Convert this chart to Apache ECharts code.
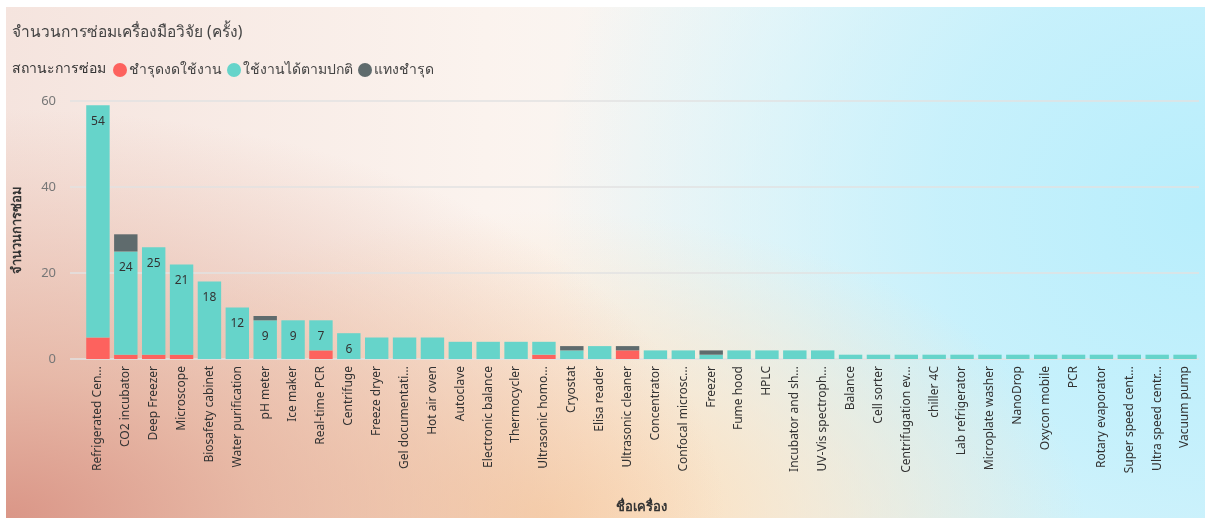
<!DOCTYPE html>
<html>
<head>
<meta charset="utf-8">
<script src="https://cdn.jsdelivr.net/npm/echarts@6/dist/echarts.min.js"></script>
<style>
html,body{margin:0;padding:0;background:#fff;}
#bg{position:absolute;left:6px;top:7px;width:1199px;height:511px;
background:
 radial-gradient(ellipse 60% 80% at 0% 100%, rgba(218,150,135,1) 0%, rgba(226,170,150,0.75) 35%, rgba(240,205,190,0) 100%),
 radial-gradient(ellipse 45% 60% at 45% 100%, rgba(252,218,178,1) 0%, rgba(252,226,195,0.6) 50%, rgba(252,235,215,0) 100%),
 radial-gradient(ellipse 55% 120% at 100% 40%, rgba(184,238,252,1) 0%, rgba(195,240,252,0.9) 40%, rgba(225,245,250,0) 100%),
 linear-gradient(90deg, #f5e4de 0%, #fbf3ee 40%, #f7f8f6 65%, #e2f5fa 100%);}
#chart{position:absolute;left:0;top:0;width:1205px;height:518px;}
</style>
</head>
<body>
<div id="bg"></div>
<div id="chart"></div>
<script>
const categories = ["Refrigerated Cen...","CO2 incubator","Deep Freezer","Microscope","Biosafety cabinet","Water purification","pH meter","Ice maker","Real-time PCR","Centrifuge",
"Freeze dryer","Gel documentati...","Hot air oven","Autoclave","Electronic balance","Thermocycler","Ultrasonic homo...","Cryostat","Elisa reader","Ultrasonic cleaner",
"Concentrator","Confocal microsc...","Freezer","Fume hood","HPLC","Incubator and sh...","UV-Vis spectroph...","Balance","Cell sorter","Centrifugation ev...",
"chiller 4C","Lab refrigerator","Microplate washer","NanoDrop","Oxycon mobile","PCR","Rotary evaporator","Super speed cent...","Ultra speed centr...","Vacuum pump"];
const brokenValues = [5,1,1,1,0,0,0,0,2,0, 0,0,0,0,0,0,1,0,0,2, 0,0,0,0,0,0,0,0,0,0, 0,0,0,0,0,0,0,0,0,0];
const normalValues = [54,24,25,21,18,12,9,9,7,6, 5,5,5,4,4,4,3,2,3,0, 2,2,1,2,2,2,2,1,1,1, 1,1,1,1,1,1,1,1,1,1];
const stabbedValues = [0,4,0,0,0,0,1,0,0,0, 0,0,0,0,0,0,0,1,0,1, 0,0,1,0,0,0,0,0,0,0, 0,0,0,0,0,0,0,0,0,0];
const yTicks = {min:0, max:60, interval:20};
const seriesNames = ["ชำรุดงดใช้งาน","ใช้งานได้ตามปกติ","แทงชำรุด"];

const FONT = "'Segoe UI','Noto Sans','Open Sans',sans-serif";
const chart = echarts.init(document.getElementById('chart'), null, {renderer:'canvas'});
chart.setOption({
  textStyle:{fontFamily:FONT},
  title:{text:"จำนวนการซ่อมเครื่องมือวิจัย (ครั้ง)", left:12, top:25, padding:0,
    textStyle:{fontSize:15.5, fontWeight:'normal', color:'#444', fontFamily:FONT}},
  graphic:[{type:'text', left:12, top:62, style:{text:"สถานะการซ่อม", fontSize:14, fontWeight:500, fill:'#333', fontFamily:FONT}}],
  legend:{left:113, top:63, padding:0, icon:'circle', itemWidth:14, itemHeight:14, itemGap:5,
    textStyle:{fontSize:14, color:'#444', padding:[0,0,0,-3]}, data:seriesNames},
  grid:[
    {left:70, right:6, top:101, bottom:159, containLabel:false, outerBoundsMode:'none'},
    {left:84, right:6, top:101, bottom:159, containLabel:false, outerBoundsMode:'none'}
  ],
  xAxis:[
    {type:'category', gridIndex:0, data:categories, show:false},
    {type:'category', gridIndex:1, data:categories,
     axisLine:{show:false}, axisTick:{show:false},
     axisLabel:{rotate:90, interval:0, margin:7, fontSize:12, color:'#333', fontFamily:FONT},
     name:"ชื่อเครื่อง", nameLocation:'middle', nameGap:142,
     nameTextStyle:{fontSize:13, fontWeight:'bold', color:'#333', fontFamily:FONT}}
  ],
  yAxis:[
    {type:'value', gridIndex:0, min:yTicks.min, max:yTicks.max, interval:yTicks.interval,
     axisLine:{show:false}, axisTick:{show:false},
     axisLabel:{fontSize:13, color:'#777', margin:14},
     splitLine:{lineStyle:{color:'#e2e2e2', width:1.5}},
     name:"จำนวนการซ่อม", nameLocation:'middle', nameRotate:90, nameGap:46,
     nameTextStyle:{fontSize:13, fontWeight:'bold', color:'#333', fontFamily:FONT}},
    {type:'value', gridIndex:1, min:yTicks.min, max:yTicks.max, interval:yTicks.interval, show:false, splitLine:{show:false}}
  ],
  series:[
    {name:seriesNames[0], type:'bar', stack:'s', xAxisIndex:1, yAxisIndex:1, data:brokenValues,
     itemStyle:{color:'#FD625E'}, barCategoryGap:'16%'},
    {name:seriesNames[1], type:'bar', stack:'s', xAxisIndex:1, yAxisIndex:1, data:normalValues,
     itemStyle:{color:'#66D4CA'}, barCategoryGap:'16%',
     label:{show:true, position:'insideTop', distance:10, fontSize:12, color:'#333',
       formatter:p => p.value >= 6 ? String(p.value) : ''}},
    {name:seriesNames[2], type:'bar', stack:'s', xAxisIndex:1, yAxisIndex:1, data:stabbedValues,
     itemStyle:{color:'#5F6B6D'}, barCategoryGap:'16%'}
  ]
});
</script>
</body>
</html>
